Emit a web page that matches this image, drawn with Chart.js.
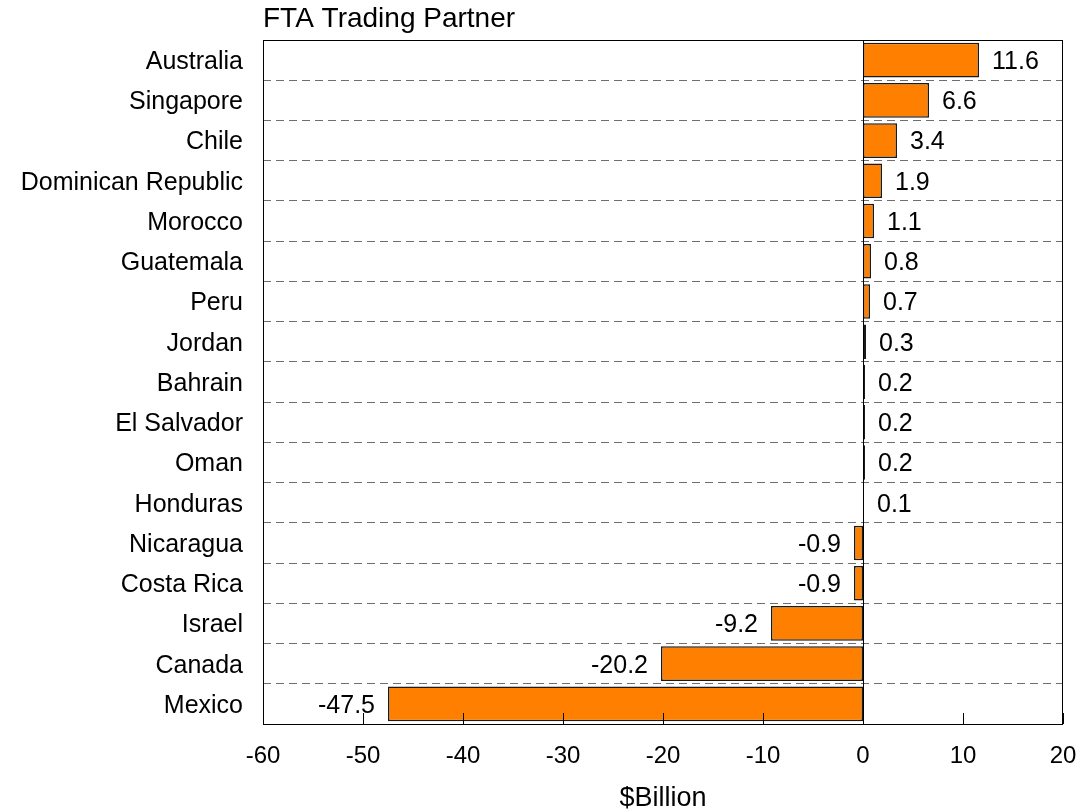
<!DOCTYPE html>
<html>
<head>
<meta charset="utf-8">
<script src="https://cdn.jsdelivr.net/npm/chart.js@4"></script>
<style>
    body { margin: 0; background: #fff; }
    #wrap { width: 1081px; height: 812px; }
</style>
</head>
<body>
<div id="wrap"><canvas id="fta_graph" width="1081" height="812"></canvas></div>
<script>
let partners = ["Australia", "Singapore", "Chile", "Dominican Republic", "Morocco", "Guatemala", "Peru", "Jordan",
    "Bahrain", "El Salvador", "Oman", "Honduras", "Nicaragua", "Costa Rica", "Israel", "Canada", "Mexico"]
let balance = [11.6, 6.6, 3.4, 1.9, 1.1, 0.8, 0.7, 0.3, 0.2, 0.2, 0.2, 0.1, -0.9, -0.9, -9.2, -20.2, -47.5]
let xTicks = [-60, -50, -40, -30, -20, -10, 0, 10, 20]
let chartTitle = "FTA Trading Partner"
let axisTitle = "$Billion"

let fontName = "'Liberation Sans', Arial, sans-serif"

//frame, zero line, inner ticks, title, value labels
let extras = {
    id: "extras",
    afterDatasetsDraw: (chart) => {
        let ctx = chart.ctx
        let area = chart.chartArea
        let x = chart.scales.x
        ctx.save()
        ctx.strokeStyle = "#000"
        ctx.lineWidth = 1
        ctx.strokeRect(area.left + 0.5, area.top + 0.5, area.right - area.left - 1, area.bottom - area.top)
        let zero = Math.round(x.getPixelForValue(0)) + 0.5
        ctx.beginPath()
        ctx.moveTo(zero, area.top)
        ctx.lineTo(zero, area.bottom)
        xTicks.forEach(t => {
            let px = Math.round(x.getPixelForValue(t)) + 0.5
            ctx.moveTo(px, area.bottom)
            ctx.lineTo(px, area.bottom - 11)
        })
        ctx.stroke()

        ctx.fillStyle = "#000"
        ctx.font = "28px " + fontName
        ctx.textAlign = "left"
        ctx.textBaseline = "alphabetic"
        ctx.fillText(chartTitle, area.left, 27)

        ctx.font = "25px " + fontName
        ctx.textBaseline = "middle"
        let meta = chart.getDatasetMeta(0)
        meta.data.forEach((bar, i) => {
            let v = balance[i]
            if (v >= 0) {
                ctx.textAlign = "left"
                ctx.fillText(v.toFixed(1), bar.x + 13, bar.y + 2)
            }
            else {
                ctx.textAlign = "right"
                ctx.fillText(v.toFixed(1), bar.x - 13, bar.y + 2)
            }
        })
        ctx.restore()
    }
}

new Chart("fta_graph", {
    type: "bar",
    data: {
        labels: partners,
        datasets: [{
            data: balance,
            backgroundColor: "#FF8000",
            borderColor: "#1a1a1a",
            borderWidth: 1.5,
            borderSkipped: false,
            barPercentage: 0.86,
            categoryPercentage: 1
        }]
    },
    options: {
        indexAxis: "y",
        responsive: false,
        animation: false,
        layout: {
            padding: { top: 40, right: 18, left: 0, bottom: 0 }
        },
        plugins: {
            legend: { display: false },
            tooltip: { enabled: false }
        },
        scales: {
            x: {
                min: -60,
                max: 20,
                afterBuildTicks: (s) => { s.ticks = xTicks.map(v => ({ value: v })) },
                afterFit: (s) => {
                    s.height = 88
                    s.paddingLeft = 0
                    s.paddingRight = 0
                },
                grid: { display: false },
                border: { display: false },
                ticks: {
                    color: "#000",
                    padding: 10,
                    maxRotation: 0,
                    font: { family: fontName, size: 24 }
                },
                title: {
                    display: true,
                    text: axisTitle,
                    color: "#000",
                    padding: { top: 0, bottom: -3 },
                    font: { family: fontName, size: 27 }
                }
            },
            y: {
                afterFit: (s) => { s.width = 263 },
                grid: {
                    color: "#6e6e6e",
                    lineWidth: 1,
                    drawTicks: false,
                    offset: true
                },
                border: { display: false, dash: [8, 5] },
                ticks: {
                    color: "#000",
                    padding: 20,
                    labelOffset: 2,
                    autoSkip: false,
                    font: { family: fontName, size: 25 }
                }
            }
        }
    },
    plugins: [extras]
})
</script>
</body>
</html>
